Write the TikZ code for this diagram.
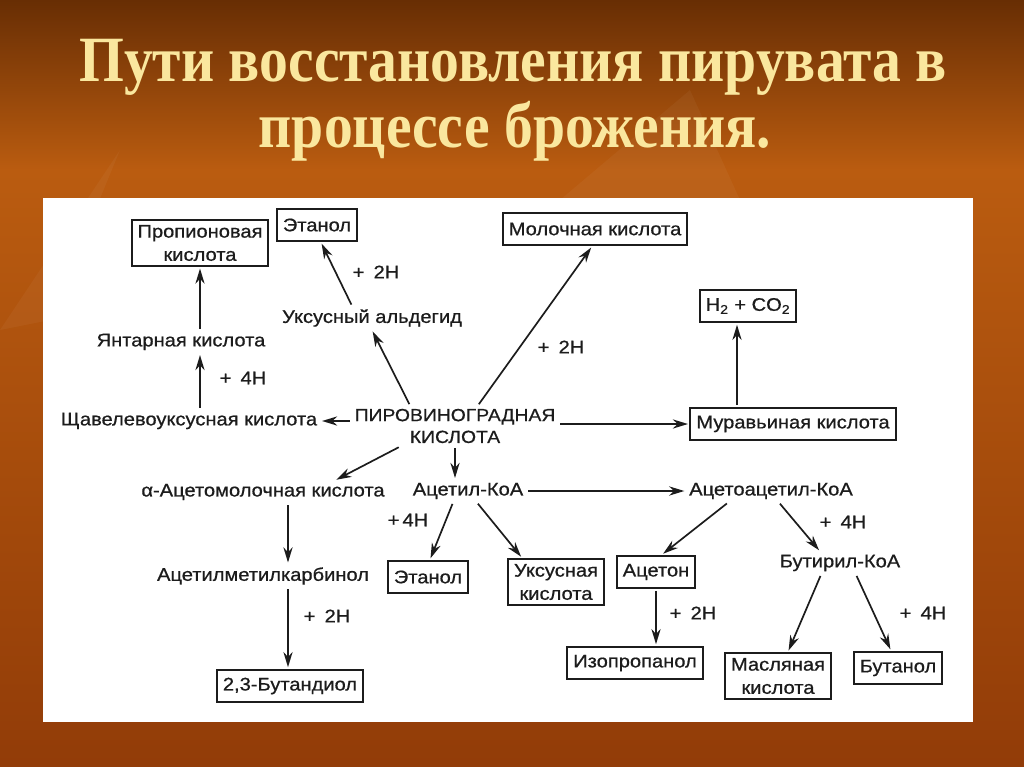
\documentclass[tikz,border=0pt]{standalone}
\usepackage{fontspec}
\setmainfont{Liberation Sans}
\newfontfamily\titlefont{Liberation Serif}
\newfontfamily\diagsans[FakeStretch=1.1,FakeBold=0.7]{Liberation Sans}
\usetikzlibrary{arrows.meta, calc}
\definecolor{bgtop}{RGB}{104,46,4}
\definecolor{bgmid}{RGB}{186,92,16}
\definecolor{bgbot}{RGB}{146,60,8}
\definecolor{titlecol}{RGB}{250,231,158}
\definecolor{ink}{RGB}{28,28,28}
\newcommand\dfont{\diagsans\fontsize{13}{14.5}\selectfont}
\tikzset{arrow/.style = {draw=ink, line width=1.2pt,-{Stealth[length=3.8mm,width=2.3mm]},shorten >=1pt,shorten <=1pt}}
\tikzset{box/.style = {draw=ink, line width=1.4pt, text=ink, font=\dfont, align=center,
  inner xsep=0.15cm, inner ysep=0.13cm, minimum height=0.82cm}}
\tikzset{txt/.style = {text=ink, font=\dfont, align=center, inner sep=0.08cm}}
\tikzset{plus/.style = {text=ink, font=\dfont, inner sep=1pt}}
\tikzset{heading/.style = {anchor=base, text=titlecol, font=\titlefont\bfseries\fontsize{41}{48}\selectfont}}

\begin{document}
\begin{tikzpicture}[x=0.025cm, y=-0.025cm]
\useasboundingbox (0,0) rectangle (1024,767);

% slide background
\fill[top color=bgtop, bottom color=bgmid] (0,0) rectangle (1024,170);
\fill[top color=bgmid, bottom color=bgbot] (0,170) rectangle (1024,767);
\fill[white, opacity=0.04] (560,200) -- (690,90) -- (740,200) -- cycle;
\fill[white, opacity=0.04] (0,330) -- (120,150) -- (50,320) -- cycle;

% title
\node[heading] (title1) at (513,82) {\scalebox{1}[1.12]{Пути восстановления пирувата в}};
\node[heading] (title2) at (515,148) {\scalebox{1}[1.12]{процессе брожения.}};

% white panel
\fill[white] (43,198) rectangle (973,722);

% upper half
\node[box] (prop) at (200,243) {Пропионовая\\[2pt]кислота};
\node[box] (eth1) at (317,225) {Этанол};
\node[box] (lac) at (595,229) {Молочная кислота};
\node[box] (gas) at (748,306) {H\textsubscript{2} + CO\textsubscript{2}};
\node[txt] (ald) at (372,318) {Уксусный альдегид};
\node[txt] (suc) at (181,342) {Янтарная кислота};
\node[txt, font=\diagsans\fontsize{12.5}{15.5}\selectfont] (pyr) at (455,426) {ПИРОВИНОГРАДНАЯ\\КИСЛОТА};
\node[txt] (oxa) at (189,421) {Щавелевоуксусная кислота};
\node[box] (form) at (793,424) {Муравьиная кислота};

% lower half
\node[txt] (aml) at (263,492) {α-Ацетомолочная кислота};
\node[txt] (acoa) at (468,491) {Ацетил-КоА};
\node[txt] (aacoa) at (771,491) {Ацетоацетил-КоА};
\node[txt] (amc) at (263,576) {Ацетилметилкарбинол};
\node[box] (eth2) at (428,577) {Этанол};
\node[box] (uks) at (556,582) {Уксусная\\[2pt]кислота};
\node[box] (acet) at (656,572) {Ацетон};
\node[txt] (butk) at (840,563) {Бутирил-КоА};
\node[box] (but23) at (290,686) {2,3-Бутандиол};
\node[box] (iso) at (635,663) {Изопропанол};
\node[box] (mas) at (778,676) {Масляная\\[2pt]кислота};
\node[box] (btnl) at (898,668) {Бутанол};

% hydrogen labels
\node[plus] (h1) at (376,272) {+\enspace2H};
\node[plus] (h2) at (243,378) {+\enspace4H};
\node[plus] (h3) at (561,347) {+\enspace2H};
\node[plus] (h4) at (327,616) {+\enspace2H};
\node[plus] (h5) at (408,520) {+\,4H};
\node[plus] (h6) at (843,522) {+\enspace4H};
\node[plus] (h7) at (693,613) {+\enspace2H};
\node[plus] (h8) at (923,613) {+\enspace4H};

% arrows
\draw[arrow] (oxa.east -| pyr.west) -- (oxa.east);
\draw[arrow] (oxa.north -| prop.south) -- (suc.south -| prop.south);
\draw[arrow] (suc.north -| prop.south) -- (prop.south);
\draw[arrow] ($(pyr.north)+(-45,0)$) -- (ald.south);
\draw[arrow] ($(ald.north)+(-20,0)$) -- ($(eth1.south)+(4,0)$);
\draw[arrow] ($(pyr.north)+(23,0)$) -- ($(lac.south)+(-3,0)$);
\draw[arrow] ($(pyr.east)+(0,-2)$) -- ($(pyr.east -| form.west)+(0,-2)$);
\draw[arrow] ($(form.north)+(-56,0)$) -- ($(gas.south)+(-11,0)$);
\draw[arrow] ($(pyr.south)+(-55,0)$) -- ($(aml.north)+(72,0)$);
\draw[arrow] (pyr.south) -- (acoa.north -| pyr.south);
\draw[arrow] (acoa.east) -- (aacoa.west);
\draw[arrow] ($(aml.south)+(25,0)$) -- ($(amc.north)+(25,0)$);
\draw[arrow] ($(amc.south)+(25,0)$) -- ($(but23.north)+(-2,0)$);
\draw[arrow] ($(acoa.south)+(-15,0)$) -- ($(eth2.north)+(2,0)$);
\draw[arrow] ($(acoa.south)+(9,0)$) -- ($(uks.north)+(-34,0)$);
\draw[arrow] ($(aacoa.south)+(-43,0)$) -- ($(acet.north)+(6,0)$);
\draw[arrow] (acet.south) -- (iso.north -| acet.south);
\draw[arrow] ($(aacoa.south)+(8,0)$) -- ($(butk.north)+(-20,0)$);
\draw[arrow] ($(butk.south)+(-19,0)$) -- ($(mas.north)+(10,0)$);
\draw[arrow] ($(butk.south)+(16,0)$) -- ($(btnl.north)+(-7,0)$);

\end{tikzpicture}
\end{document}
